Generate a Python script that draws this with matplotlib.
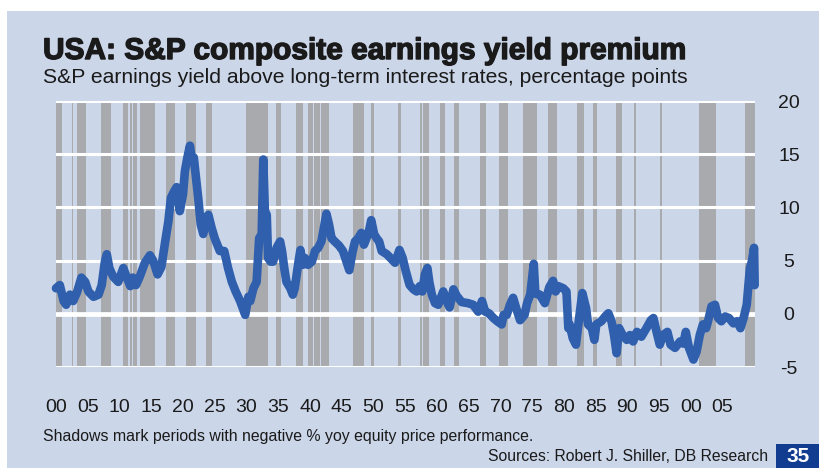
import matplotlib
matplotlib.use("Agg")
import matplotlib.pyplot as plt
from matplotlib.patches import Rectangle
import matplotlib.patheffects as pe

# --- data ---
years = [1900.0, 1900.6, 1901.2, 1901.6, 1902.2, 1902.7, 1903.3, 1904.0, 1904.6, 1905.1,
         1905.9, 1906.7, 1907.2, 1907.7, 1908.0, 1908.4, 1909.0, 1909.8, 1910.6, 1911.1,
         1911.7, 1912.1, 1912.6, 1913.2, 1914.0, 1914.8, 1915.3, 1916.0, 1916.6, 1917.2,
         1917.7, 1918.1, 1918.6, 1919.0, 1919.5, 1920.0, 1920.3, 1920.7, 1921.1, 1921.4,
         1921.7, 1922.0, 1922.4, 1922.8, 1923.2, 1923.6, 1924.0, 1924.5, 1925.0, 1925.8,
         1926.5, 1927.1, 1927.7, 1928.3, 1929.0, 1929.5, 1929.8, 1930.3, 1930.6, 1931.1,
         1931.6, 1932.0, 1932.4, 1932.65, 1932.9, 1933.2, 1933.4, 1933.8, 1934.2, 1934.75,
         1935.3, 1935.6, 1935.95, 1936.3, 1936.9, 1937.3, 1937.6, 1938.2, 1938.5, 1938.85,
         1939.2, 1939.7, 1940.3, 1940.8, 1941.3, 1941.8, 1942.2, 1942.6, 1943.0, 1943.4,
         1943.9, 1944.6, 1945.2, 1945.7, 1946.2, 1946.7, 1947.1, 1947.6, 1948.1, 1948.5,
         1948.9, 1949.3, 1949.65, 1950.1, 1950.5, 1950.9, 1951.3, 1952.1, 1952.9, 1953.4,
         1954.1, 1954.6, 1955.1, 1955.7, 1956.3, 1956.8, 1957.3, 1957.7, 1958.1, 1958.5,
         1958.8, 1959.2, 1959.7, 1960.2, 1961.0, 1961.5, 1962.0, 1962.6, 1963.1, 1963.9,
         1964.9, 1965.7, 1966.5, 1967.1, 1967.6, 1968.2, 1968.9, 1969.5, 1970.2, 1970.5,
         1971.0, 1971.5, 1972.0, 1972.5, 1973.1, 1973.8, 1974.2, 1974.7, 1975.25, 1975.5,
         1976.2, 1977.0, 1977.7, 1978.3, 1978.7, 1979.1, 1979.9, 1980.4, 1980.7, 1980.9,
         1981.4, 1981.9, 1982.4, 1982.9, 1983.5, 1983.8, 1984.4, 1984.8, 1985.1, 1985.9,
         1986.5, 1987.0, 1987.5, 1987.9, 1988.3, 1988.7, 1989.25, 1989.9, 1990.4, 1990.9,
         1991.5, 1992.2, 1993.0, 1993.7, 1994.1, 1994.6, 1995.1, 1995.6, 1996.3, 1996.8,
         1997.5, 1998.3, 1998.8, 1999.2, 1999.7, 2000.4, 2000.9, 2001.4, 2001.9, 2002.4,
         2002.7, 2003.25, 2003.8, 2004.3, 2004.8, 2005.4, 2006.0, 2006.7, 2007.3, 2007.8,
         2008.3, 2008.8, 2009.3, 2009.6, 2009.95, 2010.05]
premium = [2.4, 2.7, 1.2, 0.85, 1.8, 1.2, 2.0, 3.4, 3.0, 2.1,
           1.6, 1.8, 2.7, 4.9, 5.6, 4.3, 3.5, 3.0, 4.3, 3.5,
           2.6, 3.4, 2.7, 3.5, 4.8, 5.5, 5.0, 3.7, 4.4, 6.8,
           8.7, 10.9, 11.5, 11.9, 9.65, 11.2, 13.4, 14.7, 15.8, 14.4,
           14.7, 13.1, 10.9, 8.4, 7.5, 9.0, 9.3, 8.1, 7.1, 5.9,
           5.9, 4.3, 3.0, 2.1, 1.2, 0.4, -0.1, 1.6, 1.2, 2.4,
           3.0, 7.1, 7.5, 14.5, 9.65, 9.3, 5.25, 4.9, 4.9, 6.2,
           6.8, 5.9, 4.3, 3.0, 2.4, 1.8, 2.4, 4.9, 6.0, 4.6,
           5.25, 4.6, 4.9, 5.9, 6.2, 6.8, 8.1, 9.4, 8.4, 7.1,
           6.8, 6.4, 5.9, 5.0, 4.1, 5.8, 6.8, 7.1, 7.6, 6.5,
           7.1, 7.8, 8.8, 7.5, 7.1, 6.8, 5.9, 5.6, 5.1, 4.8,
           6.0, 5.25, 4.0, 2.7, 2.3, 2.1, 2.6, 2.1, 3.7, 4.3,
           3.0, 1.8, 1.0, 0.85, 2.1, 1.2, 0.6, 2.3, 1.7, 1.1,
           1.0, 0.85, 0.2, 1.2, 0.2, 0.05, -0.4, -0.7, -1.0, -0.1,
           -0.1, 0.85, 1.5, 0.5, -0.6, -0.1, 1.0, 1.8, 4.7, 1.9,
           1.8, 1.0, 2.5, 3.1, 2.1, 2.6, 2.4, 2.1, -1.35, -1.0,
           -2.3, -2.9, -0.4, 1.95, 0.5, -1.0, -1.35, -2.45, -1.0, -0.7,
           -0.25, 0.05, -0.7, -2.0, -3.7, -1.35, -2.0, -2.45, -2.0, -2.6,
           -1.7, -2.15, -1.35, -0.6, -0.4, -1.7, -2.9, -2.0, -1.7, -2.9,
           -3.2, -2.6, -2.8, -1.7, -3.2, -4.3, -3.55, -2.0, -1.0, -1.35,
           -0.7, 0.7, 0.85, -0.4, -0.7, -0.25, -0.4, -0.9, -0.7, -1.35,
           -0.4, 0.85, 4.3, 4.9, 6.2, 2.7]

# periods with negative yoy equity price performance (start, end)
shadow_start = [1900.0, 1902.5, 1903.3, 1907.1, 1910.5, 1911.6, 1912.2, 1912.5, 1913.2, 1917.4,
                1920.5, 1923.6, 1929.9, 1934.6, 1937.8, 1939.7, 1940.6, 1941.8, 1946.8, 1948.1,
                1949.6, 1953.8, 1957.4, 1957.8, 1960.5, 1962.7, 1966.8, 1968.45, 1969.8, 1973.6,
                1977.5, 1982.1, 1984.6, 1988.2, 1991.1, 1995.2, 2001.3, 2008.5]
shadow_end = [1900.9, 1902.7, 1904.7, 1908.7, 1911.4, 1912.0, 1912.4, 1912.8, 1915.6, 1918.8,
              1922.0, 1924.5, 1933.4, 1935.5, 1938.9, 1940.5, 1941.6, 1943.0, 1948.0, 1948.5,
              1950.1, 1954.3, 1957.7, 1958.8, 1961.3, 1963.5, 1967.7, 1968.55, 1971.2, 1975.7,
              1978.9, 1983.1, 1985.2, 1989.2, 1991.4, 1995.5, 2004.0, 2010.1]

y_ticks = [-5, 0, 5, 10, 15, 20]
x_ticks = list(range(1900, 2006, 5))
x_labels = ["%02d" % (y % 100) for y in x_ticks]

title = "USA: S&P composite earnings yield premium"
subtitle = "S&P earnings yield above long-term interest rates, percentage points"
footnote = "Shadows mark periods with negative % yoy equity price performance."
sources = "Sources: Robert J. Shiller, DB Research"
page = "35"

# --- style ---
panel_col = "#cbd6e9"
shade_col = "#a8aaae"
line_col = "#2f5fad"
text_col = "#1a1a1a"
plt.rcParams["font.family"] = ["Liberation Sans", "DejaVu Sans"]

W, H = 820, 468
fig = plt.figure(figsize=(W / 100, H / 100), dpi=100)
fig.patch.set_facecolor("white")
fig.patches.append(Rectangle((7 / W, 0), 1, 1 - 11 / H, transform=fig.transFigure,
                             facecolor=panel_col, edgecolor="none", zorder=-5))

ax = fig.add_axes([56 / W, 1 - 367 / H, 699 / W, 266 / H])
ax.set_facecolor(panel_col)
for s in ax.spines.values():
    s.set_visible(False)

for a, b in zip(shadow_start, shadow_end):
    ax.axvspan(a, b, color=shade_col, lw=0, zorder=1)
for t in y_ticks:
    ax.axhline(t, color="white", lw=3.4 if t == 0 else 2.2, zorder=2)

ax.plot(years, premium, color=line_col, lw=6.2, solid_joinstyle="round",
        solid_capstyle="round", zorder=3, clip_on=False)

ax.set_xlim(1900, 2010.1)
ax.set_ylim(-5, 20)

ax.yaxis.tick_right()
ax.set_yticks(y_ticks)
ax.set_yticklabels([str(t) for t in y_ticks], fontsize=14, color=text_col)
ax.tick_params(axis="y", length=0, pad=24.5)
for lab in ax.get_yticklabels():
    lab.set_ha("center")

ax.set_xticks(x_ticks)
ax.set_xticklabels(x_labels, fontsize=14, color=text_col)
ax.tick_params(axis="x", length=0, pad=23)

fig.text(43 / W, 1 - 59 / H, title, fontsize=21.5, fontweight="bold", color=text_col,
         va="baseline", ha="left",
         path_effects=[pe.withStroke(linewidth=1.0, foreground=text_col)])
fig.text(43 / W, 1 - 83 / H, subtitle, fontsize=15.2, color=text_col,
         va="baseline", ha="left")
fig.text(43 / W, 1 - 441 / H, footnote, fontsize=11.4, color=text_col,
         va="baseline", ha="left")
fig.text(768 / W, 1 - 461 / H, sources, fontsize=11.3, color=text_col,
         va="baseline", ha="right")

fig.patches.append(Rectangle((776 / W, 0), 44 / W, 24 / H, transform=fig.transFigure,
                             facecolor="#123c8f", edgecolor="none", zorder=1))
fig.text(798 / W, 12 / H, page, fontsize=15, fontweight="bold", color="white",
         va="center", ha="center")

fig.savefig("out.png", dpi=100, facecolor=fig.get_facecolor())
